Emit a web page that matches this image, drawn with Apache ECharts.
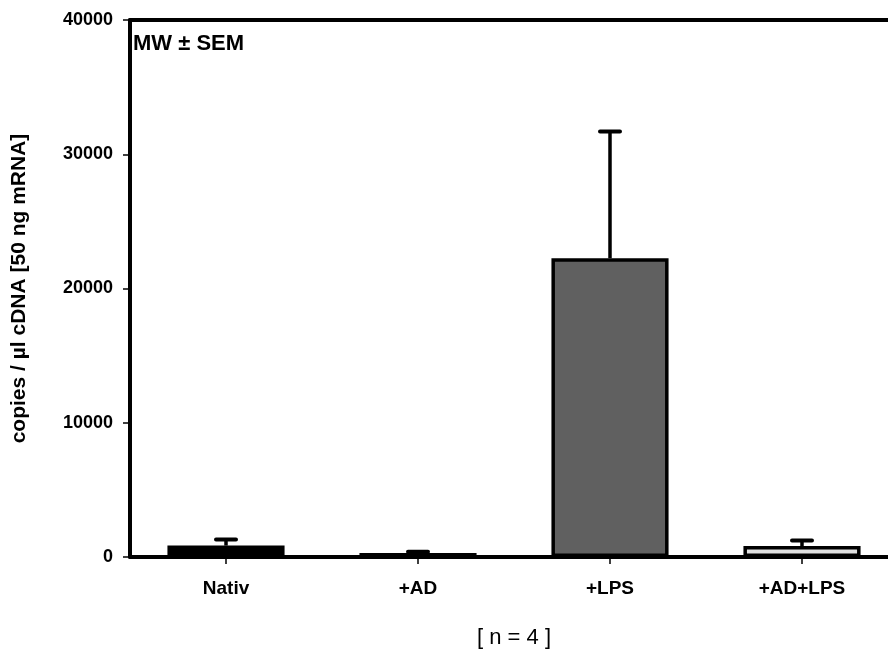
<!DOCTYPE html>
<html>
<head>
<meta charset="utf-8">
<script src="https://cdn.jsdelivr.net/npm/echarts@6/dist/echarts.min.js"></script>
<style>html,body{margin:0;padding:0;background:#fff;}#c{width:888px;height:653px;}</style>
</head>
<body>
<div id="c"></div>
<script>
const categories = ['Nativ', '+AD', '+LPS', '+AD+LPS'];
const means = [850, 290, 22250, 820];
const errTops = [1300, 400, 31700, 1220];
const barColors = ['#000000', '#000000', '#606060', '#e0e0e0'];
const yTicks = [0, 10000, 20000, 30000, 40000];

const chart = echarts.init(document.getElementById('c'), null, {renderer: 'canvas'});
const FONT = '"Liberation Sans", Arial, sans-serif';

chart.setOption({
  animation: false,
  backgroundColor: '#fff',
  grid: {left: 130, width: 768, top: 20, bottom: 96, containLabel: false, outerBoundsMode: 'none'},
  xAxis: [{
    type: 'category',
    data: categories,
    axisLine: {show: true, lineStyle: {color: '#000', width: 4}},
    axisTick: {show: true, alignWithLabel: true, length: 7, lineStyle: {color: '#000', width: 1.5}},
    axisLabel: {color: '#000', fontFamily: FONT, fontWeight: 'bold', fontSize: 19, margin: 22},
    name: '[ n = 4 ]',
    nameLocation: 'middle',
    nameGap: 70,
    nameTextStyle: {color: '#000', fontFamily: FONT, fontSize: 22}
  }, {
    type: 'category',
    position: 'top',
    data: categories,
    axisLine: {show: true, lineStyle: {color: '#000', width: 4}},
    axisTick: {show: false},
    axisLabel: {show: false}
  }],
  yAxis: {
    type: 'value',
    min: yTicks[0],
    max: yTicks[yTicks.length - 1],
    interval: 10000,
    splitLine: {show: false},
    axisLine: {show: true, lineStyle: {color: '#000', width: 4}},
    axisTick: {show: true, length: 7, lineStyle: {color: '#000', width: 1.5}},
    axisLabel: {color: '#000', fontFamily: FONT, fontWeight: 'bold', fontSize: 18, margin: 17,
      formatter: function (v) { return String(v); }},
    name: 'copies / \u00b5l cDNA [50 ng mRNA]',
    nameLocation: 'middle',
    nameRotate: 90,
    nameGap: 100,
    nameTextStyle: {color: '#000', fontFamily: FONT, fontWeight: 'bold', fontSize: 21}
  },
  series: [{
    type: 'bar',
    data: means.map((v, i) => ({value: v, itemStyle: {color: barColors[i]}})),
    barWidth: '61%',
    itemStyle: {borderColor: '#000', borderWidth: 3.5},
    z: 2
  }, {
    type: 'custom',
    data: means.map((v, i) => [i, v, errTops[i]]),
    z: 3,
    renderItem: function (params, api) {
      const x = api.value(0);
      const p0 = api.coord([x, api.value(1)]);
      const p1 = api.coord([x, api.value(2)]);
      const cap = 10;
      return {
        type: 'group',
        children: [{
          type: 'line',
          shape: {x1: p0[0], y1: p0[1], x2: p1[0], y2: p1[1]},
          style: {stroke: '#000', lineWidth: 3.5}
        }, {
          type: 'line',
          shape: {x1: p1[0] - cap, y1: p1[1], x2: p1[0] + cap, y2: p1[1]},
          style: {stroke: '#000', lineWidth: 4, lineCap: 'round'}
        }]
      };
    }
  }],
  graphic: [{
    type: 'text',
    left: 133,
    top: 33,
    style: {text: 'MW \u00b1 SEM', fill: '#000', font: 'bold 22px ' + FONT}
  }]
});
</script>
</body>
</html>
